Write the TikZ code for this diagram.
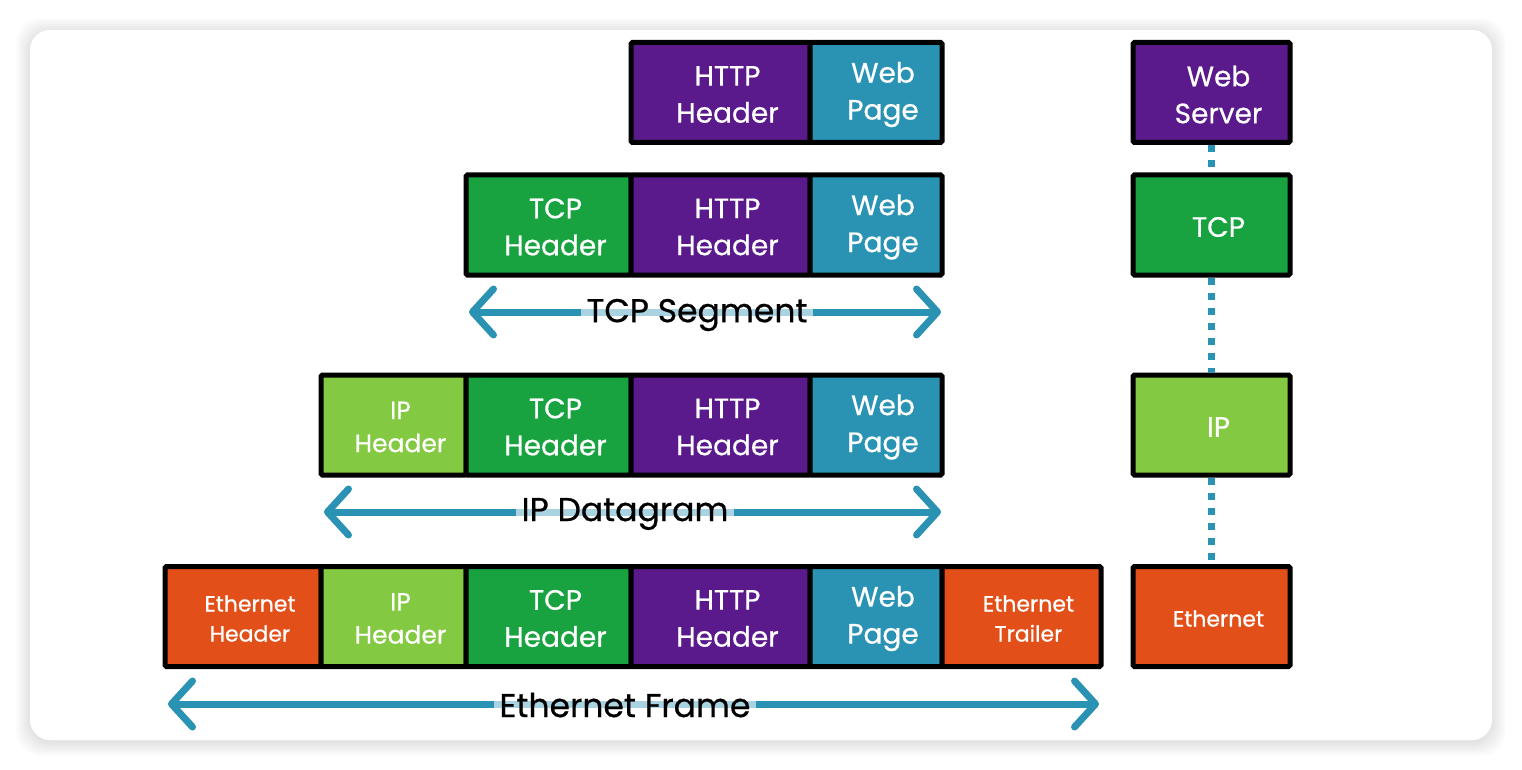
\documentclass[tikz,border=0pt]{standalone}
\usepackage{fontspec}
\setmainfont{Poppins}[FakeBold=0.6,AutoFakeBold=0.6]
\usetikzlibrary{arrows.meta}

\definecolor{httpPurple}{HTML}{5B1A8C}
\definecolor{webTeal}{HTML}{2A93B4}
\definecolor{tcpGreen}{HTML}{18A340}
\definecolor{ipGreen}{HTML}{84C942}
\definecolor{ethOrange}{HTML}{E34F18}

\tikzset{
  box/.style={draw=black, line width=5pt, rounded corners=1.5pt, inner sep=0pt,
    minimum height=100pt},
  celltext/.style={text=white, align=center, xshift=7pt, yshift=-2pt,
    font=\fontsize{28}{37}\selectfont\bfseries},
  cell/.style={box, label={[celltext]center:#1}},
  smallcell/.style={box, label={[celltext, font=\fontsize{25}{33}\selectfont\bfseries]center:#1}},
  tinycell/.style={box, label={[celltext, font=\fontsize{22}{30}\selectfont\bfseries]center:#1}},
  span/.style={draw=webTeal, line width=7pt,
    {Straight Barb[length=21pt,width=46pt,round]}-{Straight Barb[length=21pt,width=46pt,round]}},
  spanlabel/.style={fill=white, fill opacity=0.6, text opacity=1, inner xsep=6pt,
    inner ysep=1pt, font=\fontsize{33}{38}\selectfont\bfseries},
  link/.style={draw=webTeal, line width=7pt, dash pattern=on 7pt off 8pt},
}

\begin{document}
\begin{tikzpicture}[x=1pt,y=-1pt]
\useasboundingbox (0,0) rectangle (1522,770);
% card and its shadow
\foreach \s in {1,...,14}
  \fill[black, opacity=0.009, rounded corners=24pt] (30-\s,32-\s) rectangle (1492+\s,742+\s);
\fill[white, rounded corners=20pt] (30,30) rectangle (1492,740);

% HTTP message
\node[cell={HTTP\\Header}, fill=httpPurple, minimum width=179pt](http1) at (720.5,92.5){};
\node[cell={Web\\Page}, fill=webTeal, minimum width=132pt](web1) at (876,92.5){};

% TCP segment
\node[cell={TCP\\Header}, fill=tcpGreen, minimum width=165pt](tcph2) at (548.5,225){};
\node[cell={HTTP\\Header}, fill=httpPurple, minimum width=179pt](http2) at (720.5,225){};
\node[cell={Web\\Page}, fill=webTeal, minimum width=132pt](web2) at (876,225){};

% IP datagram
\node[smallcell={IP\\Header}, fill=ipGreen, minimum width=145pt](iph3) at (393.5,425){};
\node[cell={TCP\\Header}, fill=tcpGreen, minimum width=165pt](tcph3) at (548.5,425){};
\node[cell={HTTP\\Header}, fill=httpPurple, minimum width=179pt](http3) at (720.5,425){};
\node[cell={Web\\Page}, fill=webTeal, minimum width=132pt](web3) at (876,425){};

% Ethernet frame
\node[tinycell={Ethernet\\Header}, fill=ethOrange, minimum width=156pt](ethh4) at (243,616.5){};
\node[smallcell={IP\\Header}, fill=ipGreen, minimum width=145pt](iph4) at (393.5,616.5){};
\node[cell={TCP\\Header}, fill=tcpGreen, minimum width=165pt](tcph4) at (548.5,616.5){};
\node[cell={HTTP\\Header}, fill=httpPurple, minimum width=179pt](http4) at (720.5,616.5){};
\node[cell={Web\\Page}, fill=webTeal, minimum width=132pt](web4) at (876,616.5){};
\node[tinycell={Ethernet\\Trailer}, fill=ethOrange, minimum width=159pt](etht4) at (1021.5,616.5){};

% layer stack
\node[cell={Web\\Server}, fill=httpPurple, minimum width=157pt](server) at (1211.5,92.5){};
\node[cell={TCP}, fill=tcpGreen, minimum width=157pt](tcp) at (1211.5,225){};
\node[cell={IP}, fill=ipGreen, minimum width=157pt](ip) at (1211.5,425){};
\node[tinycell={Ethernet}, fill=ethOrange, minimum width=157pt](eth) at (1211.5,616.5){};
\draw[link] (server.south) -- (tcp.north);
\draw[link] (tcp.south) -- (ip.north);
\draw[link] (ip.south) -- (eth.north);

% spans
\coordinate (segL) at (469,312);
\coordinate (segR) at (941,312);
\draw[span] (segL) -- (segR);
\node[spanlabel](seg) at (697,315){TCP Segment};

\coordinate (dgL) at (324,512);
\coordinate (dgR) at (941,512);
\draw[span] (dgL) -- (dgR);
\node[spanlabel](dg) at (625,514){IP Datagram};

\coordinate (frL) at (168,704);
\coordinate (frR) at (1099,704);
\draw[span] (frL) -- (frR);
\node[spanlabel](fr) at (625,705){Ethernet Frame};
\end{tikzpicture}
\end{document}
